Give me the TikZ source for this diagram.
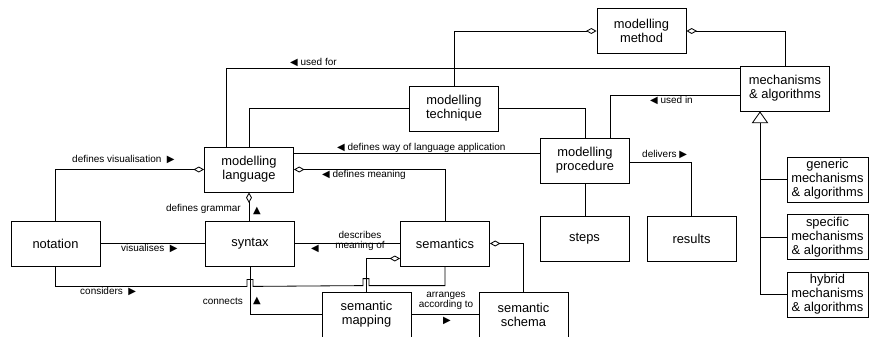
\documentclass[tikz,border=0pt]{standalone}
\usepackage{fontspec}
\setmainfont{Liberation Sans}
\newfontfamily\symfont{DejaVu Sans}
\usetikzlibrary{calc,arrows.meta}
\def\triL{{\symfont ◀}}
\def\triR{{\symfont ▶}}
\def\triU{{\symfont ▲}}
\tikzset{
	box/.style={draw, line width=0.7pt, minimum width=2.67cm, minimum height=1.35cm, inner sep=0pt, align=center, font=\fontsize{11}{12}\selectfont},
	subbox/.style={box, minimum width=2.43cm},
	lbl/.style={inner sep=0pt, align=center, font=\fontsize{8.5}{9}\selectfont},
	link/.style={line width=0.7pt},
	whole/.style={link, {Diamond[open,length=9pt,width=5pt]}-},
	isa/.style={link, -{Triangle[open,length=10pt,width=14pt]}},
}

\begin{document}
\begin{tikzpicture}[x=0.03cm, y=-0.03cm]
		%%%%% START %%%%%
		\useasboundingbox (0,0) rectangle (869,336);
		
		\node[box] (method) at (641.5, 31) {modelling\\method};
		\node[box] (mech) at (785, 88.5) {mechanisms\\\& algorithms};
		\node[box] (tech) at (454, 108.5) {modelling\\technique};
		\node[box] (proc) at (585, 160.5) {modelling\\procedure};
		\node[box] (lang) at (249, 169.5) {modelling\\language};
		
		\node[box] (note) at (55.5, 243.5) {notation};
		\node[box] (syn) at (250, 243.5) {syntax};
		\node[box] (sem) at (445, 243.5) {semantics};
		\node[box] (smap) at (366.5, 314.5) {semantic\\mapping};
		\node[box] (schema) at (523.5, 314.5) {semantic\\schema};
		\node[box] (steps) at (584.5, 238.5) {steps};
		\node[box] (res) at (691.5, 238.5) {results};
		
		\node[subbox] (gen) at (827.5, 179.5) {generic\\mechanisms\\\& algorithms};
		\node[subbox] (spec) at (827.5, 237) {specific\\mechanisms\\\& algorithms};
		\node[subbox] (hyb) at (827.5, 294.5) {hybrid\\mechanisms\\\& algorithms};
		
		% method parts
		\draw[whole] (method.west) -| (tech.north);
		\draw[whole] (method.east) -| (mech.north);
		
		\draw[link] ($(mech.north west)+(0,3)$) -| ($(lang.north west)+(22,0)$);
		\draw[link] (tech.west) -| (lang.north);
		\draw[link] (tech.east) -| (proc.north);
		\draw[link] ($(mech.west)+(0,6.5)$) -| ($(proc.north)+(25,0)$);
		\draw[link] ($(lang.north east)+(0,7)$) -- ($(proc.north west)+(0,16)$);
		\draw[link] ($(proc.east)+(0,1.5)$) -| (res.north);
		\draw[link] (proc.south) -- (proc.south |- steps.north);
		
		% mechanisms kinds
		\coordinate (isa0) at ($(mech.south)+(-25,0)$);
		\draw[isa] (hyb.west) -| (isa0);
		\draw[link] (gen.west) -- (gen.west -| isa0);
		\draw[link] (spec.west) -- (spec.west -| isa0);
		
		% language parts
		\draw[whole] (lang.west) -| (note.north);
		\draw[whole] (lang.east) -| (sem.north);
		\draw[whole] (lang.south) -- (lang.south |- syn.north);
		
		\draw[link] (note.east) -- (syn.west);
		\draw[link] (syn.east) -- (sem.west);
		\draw[link] (syn.south) |- (smap.west);
		\draw[whole] ($(sem.west)+(0,15)$) -| (smap.north);
		\draw[whole] (sem.east) -| (schema.north);
		\draw[link] (smap.east) -- (schema.west);
		
		\coordinate (jmpA) at ($(syn.south)+(-3,20)$);
		\coordinate (jmpB) at ($(smap.north)+(-3.5,-6)$);
		\draw[link] (note.south) |- (jmpA) -- ++(0,-7) -- ++(6,0) -- ++(0,7)
			-- (jmpB) -- ++(0,-7) -- ++(6,0) -- ++(0,7) -| (sem.south);
		
		% labels
		\node[lbl, anchor=west] (lfor) at (290, 63) {\triL\ used for};
		\node[lbl, anchor=west] (lin) at (650, 101) {\triL\ used in};
		\node[lbl, anchor=west] (lway) at (337, 148) {\triL\ defines way of language application};
		\node[lbl, anchor=west] (ldel) at (642, 155) {delivers \triR};
		\node[lbl, anchor=west] (lvis) at (72, 160) {defines visualisation\ \ \triR};
		\node[lbl, anchor=west] (lmean) at (322, 175) {\triL\ defines meaning};
		\node[lbl, anchor=east] (lgram) at (241, 209) {defines grammar};
		\node[lbl] (lgramt) at (257, 211) {\triU};
		\node[lbl, anchor=west] (lvisu) at (121, 249) {visualises\ \ \triR};
		\node[lbl] (ldesc) at (360, 241) {describes\\meaning of};
		\node[lbl] (ldesct) at (315, 249) {\triL};
		\node[lbl, anchor=west] (lcons) at (80, 292) {considers\ \ \triR};
		\node[lbl, anchor=east] (lcon) at (243, 301) {connects};
		\node[lbl] (lcont) at (257, 301) {\triU};
		\node[lbl] (larr) at (446, 301) {arranges\\according to};
		\node[lbl] (larrt) at (447, 321) {\triR};
		
		%%%%% END %%%%%
	\end{tikzpicture}
\end{document}
